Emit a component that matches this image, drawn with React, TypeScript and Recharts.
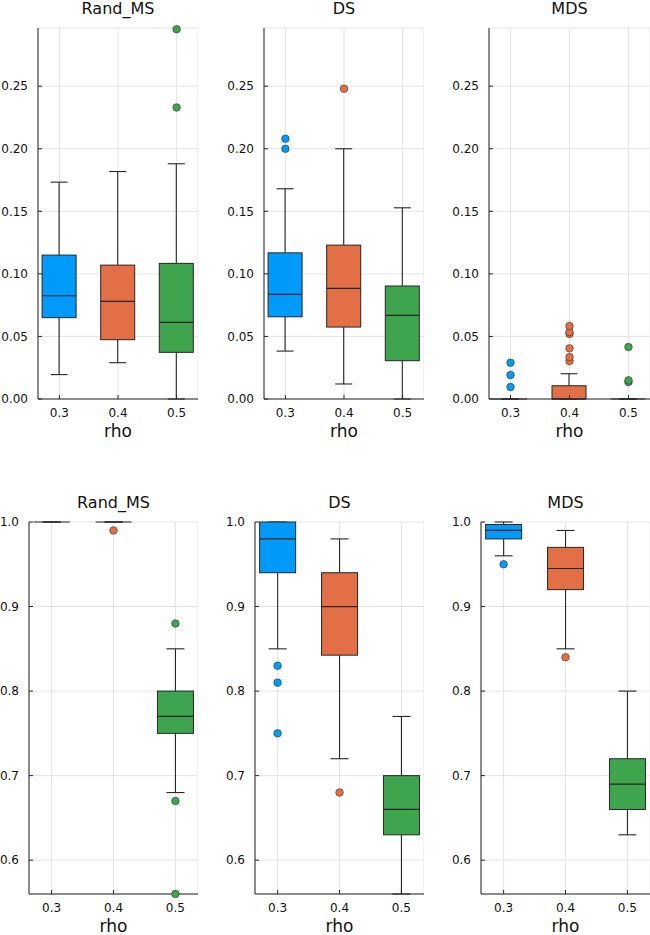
import { ComposedChart, Bar, Scatter, XAxis, YAxis, CartesianGrid } from 'recharts';

const rho = [0.3, 0.4, 0.5];
const palette = ['#009AFA', '#E36F47', '#3EA44E'];

// each row: [lower whisker, q1, median, q3, upper whisker]
const errRandMS = [
  [0.0195, 0.065, 0.0825, 0.115, 0.1733],
  [0.029, 0.0474, 0.078, 0.107, 0.1818],
  [0, 0.0373, 0.0613, 0.1084, 0.188],
];
const errRandMSOut = [[], [], [0.233, 0.2955]];

const errDS = [
  [0.0383, 0.0657, 0.0836, 0.1168, 0.168],
  [0.012, 0.0575, 0.0884, 0.123, 0.2],
  [0, 0.0306, 0.0668, 0.0903, 0.1528],
];
const errDSOut = [[0.2, 0.208], [0.248], []];

const errMDS = [
  [0, 0, 0, 0, 0],
  [0, 0, 0, 0.0106, 0.0202],
  [0, 0, 0, 0, 0],
];
const errMDSOut = [
  [0.0096, 0.0192, 0.029],
  [0.0303, 0.0335, 0.0405, 0.052, 0.0535, 0.0583],
  [0.0136, 0.0149, 0.0415],
];

const accRandMS = [
  [1, 1, 1, 1, 1],
  [1, 1, 1, 1, 1],
  [0.68, 0.75, 0.77, 0.8, 0.85],
];
const accRandMSOut = [[], [0.99], [0.56, 0.67, 0.88]];

const accDS = [
  [0.85, 0.94, 0.98, 1, 1],
  [0.72, 0.8425, 0.9, 0.94, 0.98],
  [0.56, 0.63, 0.66, 0.7, 0.77],
];
const accDSOut = [[0.75, 0.81, 0.83], [0.68], []];

const accMDS = [
  [0.96, 0.98, 0.99, 0.997, 1],
  [0.85, 0.92, 0.945, 0.97, 0.99],
  [0.63, 0.66, 0.69, 0.72, 0.8],
];
const accMDSOut = [[0.95], [0.84], []];

const errTicks = [0, 0.05, 0.1, 0.15, 0.2, 0.25];
const accTicks = [0.6, 0.7, 0.8, 0.9, 1.0];

const FONT = '"DejaVu Sans", sans-serif';
const INK = '#262626';
const X_DOMAIN: [number, number] = [0.2635, 0.5365];

const BoxShape = (props: any) => {
  const { x, y, width, height, payload } = props;
  const [lo, q1, med, q3, hi] = payload.stats;
  const top = Math.min(y, y + height);
  const bot = Math.max(y, y + height);
  const toY = (v: number) => (hi === lo ? top : top + ((hi - v) / (hi - lo)) * (bot - top));
  const cx = x + width / 2;
  const cap = width / 4;
  return (
    <g>
      <line x1={cx} x2={cx} y1={toY(hi)} y2={toY(q3)} stroke={INK} strokeWidth={1.1} />
      <line x1={cx} x2={cx} y1={toY(q1)} y2={toY(lo)} stroke={INK} strokeWidth={1.1} />
      <line x1={cx - cap} x2={cx + cap} y1={toY(hi)} y2={toY(hi)} stroke={INK} strokeWidth={1.1} />
      <line x1={cx - cap} x2={cx + cap} y1={toY(lo)} y2={toY(lo)} stroke={INK} strokeWidth={1.1} />
      <rect
        x={x}
        y={toY(q3)}
        width={width}
        height={Math.max(toY(q1) - toY(q3), 0)}
        fill={payload.color}
        stroke={INK}
        strokeWidth={1}
      />
      <line x1={x} x2={x + width} y1={toY(med)} y2={toY(med)} stroke={INK} strokeWidth={1.2} />
    </g>
  );
};

const OutlierDot = (props: any) => {
  const { cx, cy, payload } = props;
  return <circle cx={cx} cy={cy} r={3.8} fill={payload.color} stroke="#333" strokeWidth={0.6} />;
};

interface PanelProps {
  title: string;
  stats: number[][];
  outliers: number[][];
  yDomain: [number, number];
  yTicks: number[];
  digits: number;
  left: number;
  top: number;
  axisWidth: number;
  plotWidth: number;
  plotTop: number;
  plotHeight: number;
}

function BoxPanel(p: PanelProps) {
  const boxes = rho.map((r, i) => ({
    rho: r,
    stats: p.stats[i],
    range: [p.stats[i][0], p.stats[i][4]],
    color: palette[i],
  }));
  const dots = rho.flatMap((r, i) => p.outliers[i].map((v) => ({ rho: r, v, color: palette[i] })));
  const xAxisHeight = 30;
  const width = p.axisWidth + p.plotWidth;
  const height = p.plotTop + p.plotHeight + xAxisHeight;
  const barSize = Math.round((p.plotWidth * 0.058) / (X_DOMAIN[1] - X_DOMAIN[0]));
  const plotLeft = p.left + p.axisWidth;

  return (
    <>
      <div
        style={{
          position: 'absolute',
          left: plotLeft,
          top: p.top + p.plotTop - 29,
          width: p.plotWidth,
          textAlign: 'center',
          fontFamily: FONT,
          fontSize: 16,
          lineHeight: '20px',
          color: '#111',
        }}
      >
        {p.title}
      </div>
      <div style={{ position: 'absolute', left: p.left, top: p.top }}>
        <ComposedChart
          width={width}
          height={height}
          data={boxes}
          margin={{ top: p.plotTop, right: 0, left: 0, bottom: 0 }}
        >
          <CartesianGrid stroke="#e4e4e4" strokeWidth={1} />
          <XAxis
            dataKey="rho"
            type="number"
            domain={X_DOMAIN}
            ticks={rho}
            height={xAxisHeight}
            tickSize={-4}
            tickMargin={13}
            tickLine={{ stroke: INK }}
            axisLine={{ stroke: INK }}
            tick={{ fontSize: 12, fill: '#111', fontFamily: FONT }}
            tickFormatter={(v: number) => v.toFixed(1)}
          />
          <YAxis
            type="number"
            domain={p.yDomain}
            ticks={p.yTicks}
            width={p.axisWidth}
            tickSize={-4}
            tickMargin={14}
            tickLine={{ stroke: INK }}
            axisLine={{ stroke: INK }}
            tick={{ fontSize: 12, fill: '#111', fontFamily: FONT }}
            tickFormatter={(v: number) => v.toFixed(p.digits)}
          />
          <Bar dataKey="range" barSize={barSize} shape={BoxShape} isAnimationActive={false} />
          <Scatter data={dots} dataKey="v" shape={OutlierDot} isAnimationActive={false} />
        </ComposedChart>
      </div>
      <div
        style={{
          position: 'absolute',
          left: plotLeft,
          top: p.top + p.plotTop + p.plotHeight + 24,
          width: p.plotWidth,
          textAlign: 'center',
          fontFamily: FONT,
          fontSize: 17,
          lineHeight: '16px',
          color: '#111',
        }}
      >
        rho
      </div>
    </>
  );
}

export default function App() {
  const topRow = { top: 0, plotTop: 28, plotHeight: 371, yDomain: [0, 0.2965] as [number, number], yTicks: errTicks, digits: 2 };
  const bottomRow = { top: 490, plotTop: 32, plotHeight: 372, yDomain: [0.56, 1.0] as [number, number], yTicks: accTicks, digits: 1 };
  return (
    <div style={{ position: 'absolute', left: 0, top: 0, width: 650, height: 935, background: '#fff', overflow: 'hidden' }}>
      <BoxPanel title="Rand_MS" stats={errRandMS} outliers={errRandMSOut} left={0} axisWidth={38} plotWidth={160} {...topRow} />
      <BoxPanel title="DS" stats={errDS} outliers={errDSOut} left={215} axisWidth={49} plotWidth={160} {...topRow} />
      <BoxPanel title="MDS" stats={errMDS} outliers={errMDSOut} left={440} axisWidth={49} plotWidth={161} {...topRow} />
      <BoxPanel title="Rand_MS" stats={accRandMS} outliers={accRandMSOut} left={0} axisWidth={29} plotWidth={169} {...bottomRow} />
      <BoxPanel title="DS" stats={accDS} outliers={accDSOut} left={215} axisWidth={40} plotWidth={169} {...bottomRow} />
      <BoxPanel title="MDS" stats={accMDS} outliers={accMDSOut} left={440} axisWidth={41} plotWidth={169} {...bottomRow} />
    </div>
  );
}
